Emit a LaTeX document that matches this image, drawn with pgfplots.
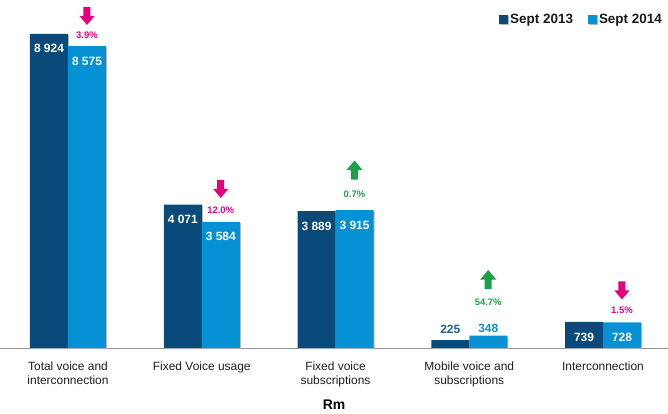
\documentclass[border=0pt]{standalone}
\usepackage{pgfplots}
\pgfplotsset{compat=1.18}
\usepackage{fontspec}
\setmainfont{Liberation Sans}
\definecolor{barDark}{HTML}{0A4A7B}
\definecolor{barLight}{HTML}{0791D5}
\definecolor{lblDark}{HTML}{1D5C98}
\definecolor{downPink}{HTML}{E5007E}
\definecolor{upGreen}{HTML}{1AA24A}
\definecolor{tickText}{HTML}{1E1E1E}
\newcommand{\downarr}[3]{\fill[#3] (axis cs:#1,#2) ++(-3.5bp,9bp) -- ++(7bp,0bp) -- ++(0bp,-9bp) -- ++(4bp,0bp) -- ++(-7.5bp,-9bp) -- ++(-7.5bp,9bp) -- ++(4bp,0bp) -- cycle;}
\newcommand{\uparr}[3]{\fill[#3] (axis cs:#1,#2) ++(-3.5bp,-9.5bp) -- ++(7bp,0bp) -- ++(0bp,9.5bp) -- ++(4.5bp,0bp) -- ++(-8bp,9.5bp) -- ++(-8bp,-9.5bp) -- ++(4.5bp,0bp) -- cycle;}
\newcommand{\pct}[4]{\node[text=#4, font=\bfseries\fontsize{9.5}{11}\selectfont, inner sep=0pt, anchor=center] at (axis cs:#1,#2) {#3};}
\begin{document}
\begin{tikzpicture}
\path[use as bounding box] (0,0) rectangle (668bp,414bp);
\begin{axis}[
  at={(0bp,66bp)}, anchor=south west,
  scale only axis, width=668bp, height=348bp,
  xmin=-0.5084, xmax=4.4860, ymin=0, ymax=9883,
  axis line style={draw=none},
  ybar=0pt, bar width=38bp,
  xtick={0,1,2,3,4},
  xticklabels={{Total voice and\\interconnection},{Fixed Voice usage},{Fixed voice\\subscriptions},{Mobile voice and\\subscriptions},{Interconnection}},
  xticklabel style={align=center, font=\fontsize{12}{14}\selectfont, text=tickText, anchor=north, yshift=-10bp},
  major tick length=0pt,
  tick style={draw=none},
  ytick=\empty,
  xlabel={Rm},
  xlabel style={at={(axis description cs:0.5,0)}, anchor=center, yshift=-57bp, font=\bfseries\fontsize{14}{16}\selectfont},
  point meta=explicit symbolic,
  nodes near coords,
  visualization depends on={y \as \yv},
  every node near coord/.append style={font=\bfseries\fontsize{12}{14}\selectfont, inner sep=0pt, text=white, anchor=north},
  every axis plot/.append style={draw=none, preaction={fill=black!28, transform canvas={shift={(1.2bp,-1.2bp)}}}},
  legend columns=2,
  legend style={at={(rel axis cs:1,1)}, anchor=north east, xshift=-4bp, yshift=-12bp, draw=none, fill=none, font=\bfseries\fontsize{13.5}{16}\selectfont, text=black!90, /tikz/every even column/.append style={column sep=13bp}, inner sep=0pt},
  legend image code/.code={\fill[#1, draw=none] (-2bp,-4.5bp) rectangle (7bp,4.5bp);},
  clip=false,
]
\draw[black!42, line width=1bp] (axis cs:-0.5084,0) -- (axis cs:4.4860,0);
\addplot[fill=barDark, every node near coord/.append style={yshift={(\yv<500 ? 15.6 : -10.5)*1bp}}] coordinates {
  (0,8924) [8 924]
  (1,4071) [4 071]
  (2,3889) [3 889]
  (3,225) [\textcolor{lblDark}{225}]
  (4,739) [739]
};
\addplot[fill=barLight, every node near coord/.append style={yshift={(\yv<500 ? 11.6 : -10.5)*1bp}}] coordinates {
  (0,8575) [8 575]
  (1,3584) [3 584]
  (2,3915) [3 915]
  (3,348) [\textcolor{barLight}{348}]
  (4,728) [728]
};
\legend{Sept 2013, Sept 2014}
\downarr{0.142}{9429}{downPink}
\pct{0.142}{8875}{3.9\%}{downPink}
\downarr{1.142}{4516}{downPink}
\pct{1.142}{3905}{12.0\%}{downPink}
\uparr{2.142}{5055}{upGreen}
\pct{2.142}{4374}{0.7\%}{upGreen}
\uparr{3.142}{1945}{upGreen}
\pct{3.142}{1306}{54.7\%}{upGreen}
\downarr{4.142}{1633}{downPink}
\pct{4.142}{1079}{1.5\%}{downPink}
\end{axis}
\end{tikzpicture}
\end{document}
